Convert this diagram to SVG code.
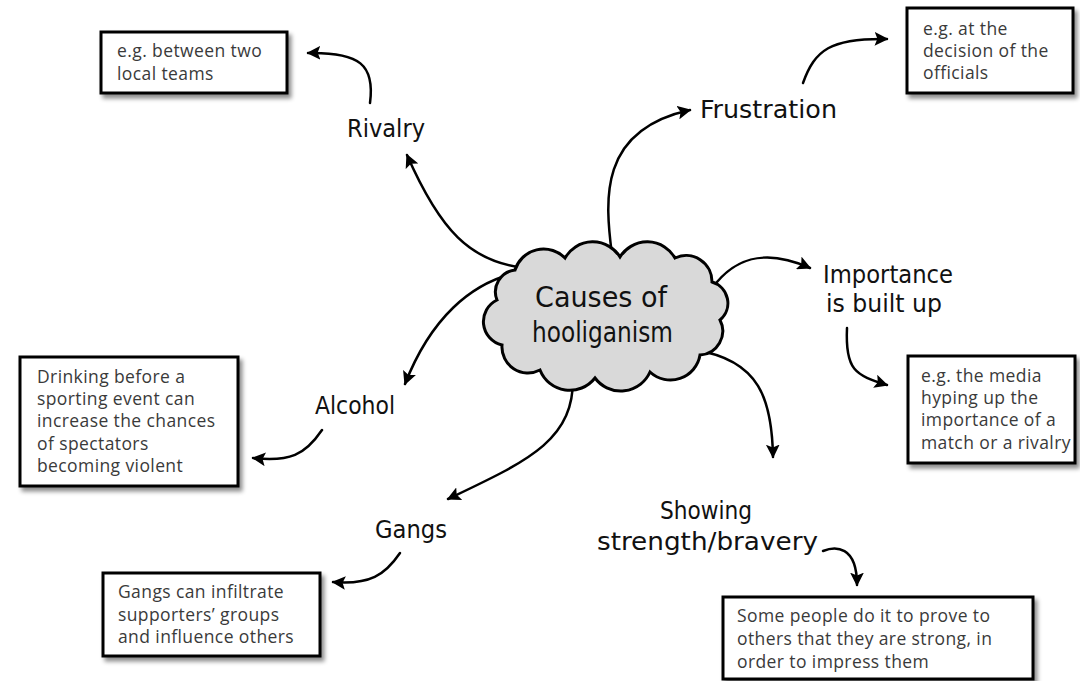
<svg xmlns="http://www.w3.org/2000/svg" width="1080" height="681" viewBox="0 0 1080 681">
<defs>
<filter id="sh" x="-10%" y="-10%" width="130%" height="140%">
<feDropShadow dx="3" dy="4" stdDeviation="2" flood-color="#000" flood-opacity="0.45"/>
</filter>
<marker id="ah" viewBox="0 0 10 10" refX="9" refY="5" markerWidth="5.5" markerHeight="5.5" markerUnits="strokeWidth" orient="auto">
<path d="M0,0 L10,5 L0,10 L2,5 z" fill="#000"/>
</marker>
<style>
.box{fill:#fff;stroke:#000;stroke-width:3;filter:url(#sh)}
.bt{font-family:"Open Sans","Liberation Sans",sans-serif;font-size:17.5px;letter-spacing:0.4px;fill:#3a3a3a}
.lab{font-family:"Liberation Sans Narrow","DejaVu Sans Condensed","DejaVu Sans",sans-serif;font-size:25px;fill:#111}
.cl{font-family:"Liberation Sans Narrow","DejaVu Sans Condensed","DejaVu Sans",sans-serif;font-size:29px;fill:#111}
.c{fill:none;stroke:#000;stroke-width:2.5;stroke-linecap:round;marker-end:url(#ah)}
</style>
</defs>
<rect width="1080" height="681" fill="#fff"/>

<g id="connectors">
<path class="c" d="M525,268 C470,262 440,230 407,155"/>
<path class="c" d="M520,272 C470,282 430,320 405,384"/>
<path class="c" d="M612,255 C605,200 598,130 690,110"/>
<path class="c" d="M803,83 C815,50 830,38 887,39"/>
<path class="c" d="M717,282 C740,255 770,250 810,268"/>
<path class="c" d="M847,328 C845,370 855,375 887,385"/>
<path class="c" d="M695,350 C760,360 772,400 773,457"/>
<path class="c" d="M573,375 C575,440 530,460 448,499"/>
<path class="c" d="M322,430 C305,455 290,462 253,458"/>
<path class="c" d="M400,553 C385,575 370,585 333,582"/>
<path class="c" d="M370,103 C375,65 360,52 308,53"/>
<path class="c" d="M823,551 C835,546 857,545 857,585"/>
</g>

<g id="cloud">
<path d="M515,270 A30,30 0 0 1 565,258 A32,32 0 0 1 620,257 A32,32 0 0 1 675,258 A26,26 0 0 1 712,282 A22,22 0 0 1 720,320 A24,24 0 0 1 700,355 A30,30 0 0 1 650,372 A32,32 0 0 1 595,378 A32,32 0 0 1 540,370 A26,26 0 0 1 502,345 A24,24 0 0 1 497,300 A22,22 0 0 1 515,270 Z" fill="#d9d9d9" stroke="#000" stroke-width="3"/>
<text class="cl" x="535" y="307" textLength="132" lengthAdjust="spacingAndGlyphs">Causes of</text>
<text class="cl" x="532" y="342" textLength="141" lengthAdjust="spacingAndGlyphs">hooliganism</text>
</g>

<g id="rivalry">
<text class="lab" x="347" y="137" textLength="78" lengthAdjust="spacingAndGlyphs">Rivalry</text>
</g>
<g id="rivalry-box">
<rect class="box" x="101" y="32" width="186" height="61"/>
<text class="bt" x="117" y="57">e.g. between two</text>
<text class="bt" x="117" y="80">local teams</text>
</g>

<g id="frustration">
<text class="lab" x="700" y="118" textLength="137" lengthAdjust="spacingAndGlyphs">Frustration</text>
</g>
<g id="frustration-box">
<rect class="box" x="907" y="8" width="166" height="85"/>
<text class="bt" x="923" y="35">e.g. at the</text>
<text class="bt" x="923" y="57">decision of the</text>
<text class="bt" x="923" y="79">officials</text>
</g>

<g id="importance">
<text class="lab" x="823" y="283" textLength="130" lengthAdjust="spacingAndGlyphs">Importance</text>
<text class="lab" x="826" y="312" textLength="116" lengthAdjust="spacingAndGlyphs">is  built  up</text>
</g>
<g id="importance-box">
<rect class="box" x="908" y="356" width="167" height="107"/>
<text class="bt" x="921" y="382">e.g. the media</text>
<text class="bt" x="921" y="404">hyping up the</text>
<text class="bt" x="921" y="426">importance of a</text>
<text class="bt" x="921" y="449">match or a rivalry</text>
</g>

<g id="alcohol">
<text class="lab" x="315" y="414" textLength="80" lengthAdjust="spacingAndGlyphs">Alcohol</text>
</g>
<g id="alcohol-box">
<rect class="box" x="20" y="357" width="218" height="129"/>
<text class="bt" x="37" y="383">Drinking before a</text>
<text class="bt" x="37" y="405">sporting event can</text>
<text class="bt" x="37" y="427">increase the chances</text>
<text class="bt" x="37" y="450">of spectators</text>
<text class="bt" x="37" y="472">becoming violent</text>
</g>

<g id="gangs">
<text class="lab" x="375" y="538" textLength="72" lengthAdjust="spacingAndGlyphs">Gangs</text>
</g>
<g id="gangs-box">
<rect class="box" x="103" y="573" width="217" height="83"/>
<text class="bt" x="118" y="598">Gangs can infiltrate</text>
<text class="bt" x="118" y="621">supporters’ groups</text>
<text class="bt" x="118" y="643">and influence others</text>
</g>

<g id="showing">
<text class="lab" x="660" y="519" textLength="92" lengthAdjust="spacingAndGlyphs">Showing</text>
<text class="lab" x="597" y="550" textLength="221" lengthAdjust="spacingAndGlyphs">strength/bravery</text>
</g>
<g id="showing-box">
<rect class="box" x="723" y="597" width="310" height="82"/>
<text class="bt" x="737" y="622">Some people do it to prove to</text>
<text class="bt" x="737" y="645">others that they are strong, in</text>
<text class="bt" x="737" y="668">order to impress them</text>
</g>
</svg>
